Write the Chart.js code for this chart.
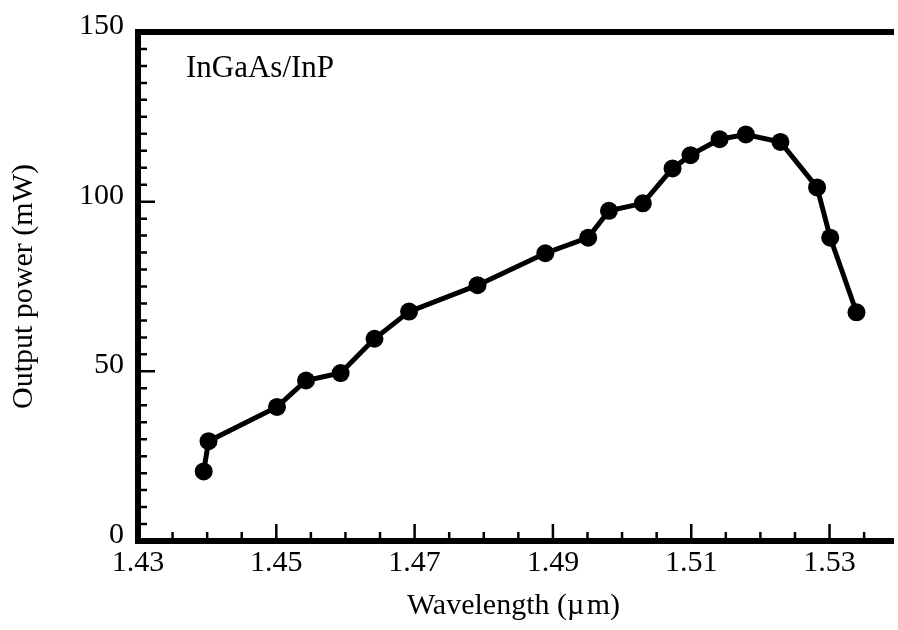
<!DOCTYPE html>
<html>
<head>
<meta charset="utf-8">
<script src="https://cdn.jsdelivr.net/npm/chart.js@4"></script>
<style>
  body { margin: 0; background: #fff; }
  #wrap { width: 898px; height: 630px; }
</style>
</head>
<body>
<div id="wrap"><canvas id="myChart"></canvas></div>
<script>
// measured spectrum: wavelength (um) vs output power (mW)
const wavelength = [1.4395, 1.4402, 1.4501, 1.4543, 1.4593, 1.4642, 1.4692, 1.4791, 1.4889, 1.4951,
                    1.4981, 1.5030, 1.5073, 1.5099, 1.5141, 1.5179, 1.5229, 1.5282, 1.5301, 1.5339];
const power = [20.5, 29.4, 39.5, 47.3, 49.5, 59.6, 67.6, 75.4, 84.8, 89.4,
               97.3, 99.5, 109.8, 113.7, 118.4, 119.8, 117.6, 104.2, 89.4, 67.4];

const xTicks = [1.43, 1.45, 1.47, 1.49, 1.51, 1.53];
const yTicks = [0, 50, 100, 150];
const xMinorStep = 0.005;
const yMinorStep = 5;

const serif = "'Liberation Serif', 'Times New Roman', serif";

const points = wavelength.map((w, i) => ({ x: w, y: power[i] }));

// axes drawn by hand: thick frame on left/bottom/top, ticks pointing inward
const frameAxes = {
    id: 'frameAxes',
    afterDatasetsDraw(chart) {
        const ctx = chart.ctx;
        const a = chart.chartArea;
        const xs = chart.scales.x;
        const ys = chart.scales.y;
        ctx.save();
        ctx.strokeStyle = '#000';
        ctx.lineCap = 'butt';

        // minor + major ticks
        ctx.lineWidth = 2.5;
        ctx.beginPath();
        for (let v = 1.43; v <= xs.max + 1e-9; v += xMinorStep) {
            const px = xs.getPixelForValue(v);
            const major = xTicks.some(t => Math.abs(t - v) < 1e-6);
            ctx.moveTo(px, a.bottom);
            ctx.lineTo(px, a.bottom - (major ? 17 : 9));
        }
        for (let v = 0; v <= 150; v += yMinorStep) {
            const py = ys.getPixelForValue(v);
            const major = yTicks.includes(v);
            ctx.moveTo(a.left, py);
            ctx.lineTo(a.left + (major ? 17 : 9), py);
        }
        ctx.stroke();

        ctx.lineWidth = 6;
        ctx.beginPath();
        ctx.moveTo(a.left, a.top);
        ctx.lineTo(a.left, a.bottom);
        ctx.lineTo(a.right + 5, a.bottom);
        ctx.moveTo(a.left - 3, a.top);
        ctx.lineTo(a.right + 5, a.top);
        ctx.stroke();

        ctx.fillStyle = '#000';
        ctx.font = '31px ' + serif;
        ctx.textBaseline = 'alphabetic';
        ctx.fillText('InGaAs/InP', a.left + 48, 77);
        ctx.restore();
    }
};

const data = {
    datasets: [{
        label: 'InGaAs/InP',
        data: points,
        showLine: true,
        borderColor: '#000',
        backgroundColor: '#000',
        borderWidth: 5,
        pointRadius: 9,
        pointBorderWidth: 0,
        pointBackgroundColor: '#000',
        clip: false
    }]
};

const config = {
    type: 'scatter',
    data,
    options: {
        responsive: true,
        maintainAspectRatio: false,
        animation: false,
        layout: { padding: { top: 29, right: 0, left: 0, bottom: 0 } },
        plugins: {
            legend: { display: false },
            tooltip: { enabled: false }
        },
        scales: {
            x: {
                type: 'linear',
                min: 1.43,
                max: 1.5386,
                afterFit: s => { s.height = 89; },
                afterBuildTicks: s => { s.ticks = xTicks.map(v => ({ value: v })); },
                grid: { display: false, drawTicks: false },
                border: { display: false },
                ticks: {
                    color: '#000',
                    font: { family: serif, size: 30 },
                    padding: 4,
                    maxRotation: 0,
                    callback: v => v.toFixed(2)
                },
                title: {
                    display: true,
                    text: 'Wavelength (\u00b5\u200am)',
                    color: '#000',
                    font: { family: serif, size: 30 },
                    padding: { top: 0, bottom: 6 }
                }
            },
            y: {
                type: 'linear',
                min: 0,
                max: 150,
                afterFit: s => { s.width = 138; },
                afterBuildTicks: s => { s.ticks = yTicks.map(v => ({ value: v })); },
                grid: { display: false, drawTicks: false },
                border: { display: false },
                ticks: {
                    color: '#000',
                    font: { family: serif, size: 30 },
                    padding: 14,
                    labelOffset: -6,
                    callback: v => String(v)
                },
                title: {
                    display: true,
                    text: 'Output power (mW)',
                    color: '#000',
                    font: { family: serif, size: 30 },
                    padding: { top: 6, bottom: 0 }
                }
            }
        }
    },
    plugins: [frameAxes]
};

var myChart = new Chart(document.getElementById('myChart'), config);
</script>
</body>
</html>
